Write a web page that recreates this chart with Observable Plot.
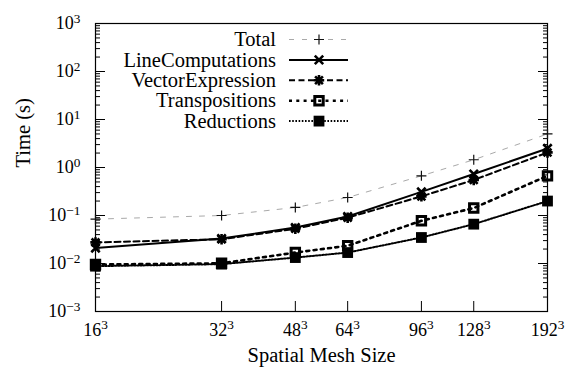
<!DOCTYPE html>
<html><head><meta charset="utf-8">
<script src="https://cdn.jsdelivr.net/npm/d3@7"></script>
<script src="https://cdn.jsdelivr.net/npm/@observablehq/plot@0.6"></script>
<style>
html,body{margin:0;padding:0;background:#fff}
svg{display:block}
svg text, svg tspan{font-family:"Liberation Serif","DejaVu Serif",serif !important;}
</style>
</head><body><div id="chart"></div>
<script>
// ---- data ----
const meshSizes = [16, 32, 48, 64, 96, 128, 192];
const seriesNames = ["Total", "LineComputations", "VectorExpression", "Transpositions", "Reductions"];
const total            = [0.084, 0.100, 0.147, 0.237, 0.67, 1.45, 5.0];
const lineComputations = [0.021, 0.033, 0.056, 0.095, 0.31, 0.73, 2.49];
const vectorExpression = [0.0275, 0.032, 0.053, 0.090, 0.25, 0.55, 2.05];
const transpositions   = [0.0095, 0.0101, 0.0169, 0.0234, 0.0776, 0.143, 0.67];
const reductions       = [0.0088, 0.0097, 0.0133, 0.0169, 0.0348, 0.066, 0.20];
const yMajorTicks = [1e-3, 1e-2, 1e-1, 1e0, 1e1, 1e2, 1e3];
const yTickExponents = ["−3", "−2", "−1", "0", "1", "2", "3"];
const xTickLabels = ["16", "32", "48", "64", "96", "128", "192"];
const xTickExponent = "3";
const xLabel = "Spatial Mesh Size";
const yLabel = "Time (s)";

const seriesValues = [total, lineComputations, vectorExpression, transpositions, reductions];
const rows = seriesNames.flatMap((name, s) => meshSizes.map((m, i) => ({series: name, mesh: m, value: seriesValues[s][i]})));
const yMinorTicks = d3.range(-3, 3).flatMap(e => d3.range(2, 10).map(k => k * Math.pow(10, e)));
const xTicks = meshSizes.map((m, i) => ({mesh: m, label: xTickLabels[i] + "^" + xTickExponent}));

// ---- symbols (half-width = r) ----
const hw = size => Math.sqrt(size / Math.PI);
const plusSym = {draw(c, s){const h = hw(s); c.moveTo(-h,0); c.lineTo(h,0); c.moveTo(0,-h); c.lineTo(0,h);}};
const timesSym = {draw(c, s){const h = hw(s); c.moveTo(-h,-h); c.lineTo(h,h); c.moveTo(-h,h); c.lineTo(h,-h);}};
const asteriskSym = {draw(c, s){const h = hw(s), d = h*0.75; c.moveTo(-h,0); c.lineTo(h,0); c.moveTo(0,-h); c.lineTo(0,h); c.moveTo(-d,-d); c.lineTo(d,d); c.moveTo(-d,d); c.lineTo(d,-d);}};
const squareSym = {draw(c, s){const h = hw(s); c.moveTo(-h,-h); c.lineTo(h,-h); c.lineTo(h,h); c.lineTo(-h,h); c.closePath();}};

const styles = {
  Total:            {stroke: "#a9a9a9", width: 1,   dash: "5,8",     sym: plusSym,     r: 5,   mStroke: "#111", mWidth: 1.2, mFill: "none"},
  LineComputations: {stroke: "#000",    width: 2,   dash: null,      sym: timesSym,    r: 4.2, mStroke: "#000", mWidth: 2.6, mFill: "none"},
  VectorExpression: {stroke: "#000",    width: 2,   dash: "6,3.5",   sym: asteriskSym, r: 5.2, mStroke: "#000", mWidth: 2.6, mFill: "none"},
  Transpositions:   {stroke: "#000",    width: 2.6, dash: "3,4.3",   sym: squareSym,   r: 4.2, mStroke: "#000", mWidth: 3,   mFill: "none"},
  Reductions:       {stroke: "#000",    width: 2,   dash: "1.6,1.6", sym: squareSym,   r: 5.4, mStroke: "none", mWidth: 0,   mFill: "#000"}
};

const W = 571, H = 376, mL = 95, mR = 24, mT = 23, mB = 65;
const plotH = H - mT - mB;
const font = "'Liberation Serif', 'DejaVu Serif', serif";

function legend() {
  const g = d3.create("svg:g").attr("font-size", 20.5);
  seriesNames.forEach((name, i) => {
    const st = styles[name];
    const y = mT + 16.5 + i * 20.4;
    g.append("text").attr("x", mL + 181).attr("y", y).attr("dy", "0.33em").attr("text-anchor", "end").attr("fill", "#000").text(name);
    g.append("line").attr("x1", mL + 194).attr("x2", mL + 253).attr("y1", y).attr("y2", y)
      .attr("stroke", st.stroke).attr("stroke-width", st.width).attr("stroke-dasharray", st.dash);
    g.append("path").attr("transform", `translate(${mL + 224},${y})`)
      .attr("d", d3.symbol(st.sym, Math.PI * st.r * st.r)())
      .attr("fill", st.mFill).attr("stroke", st.mStroke).attr("stroke-width", st.mWidth);
  });
  return g.node();
}

const seriesMarks = seriesNames.flatMap(name => {
  const st = styles[name];
  const data = rows.filter(d => d.series === name);
  return [
    Plot.line(data, {x: "mesh", y: "value", stroke: st.stroke, strokeWidth: st.width, strokeDasharray: st.dash}),
    Plot.dot(data, {x: "mesh", y: "value", symbol: st.sym, r: st.r, fill: st.mFill, stroke: st.mStroke, strokeWidth: st.mWidth})
  ];
});

const chart = Plot.plot({
  width: W, height: H,
  marginLeft: mL, marginRight: mR, marginTop: mT, marginBottom: mB,
  style: {fontFamily: font, fontSize: "18px", background: "#fff", color: "#000"},
  x: {type: "log", domain: [16, 192], axis: null},
  y: {type: "log", domain: [1e-3, 1e3]},
  marks: [
    Plot.axisY(yMinorTicks, {anchor: "left", tickSize: -5, tickFormat: () => "", label: null}),
    Plot.axisY(yMinorTicks, {anchor: "right", tickSize: -5, tickFormat: () => "", label: null}),
    Plot.axisY(yMajorTicks, {anchor: "right", tickSize: -10, tickFormat: () => "", label: null}),
    Plot.axisY(yMajorTicks, {anchor: "left", tickSize: -10, tickPadding: 25, label: null,
      tickFormat: d => "10^" + yTickExponents[yMajorTicks.indexOf(d)]}),
    Plot.tickX(xTicks, {x: "mesh", insetTop: plotH - 10, stroke: "#000"}),
    Plot.text(xTicks, {x: "mesh", text: "label", frameAnchor: "bottom", dy: 24, fontSize: 18, fill: "#000"}),
    Plot.frame({stroke: "#000", strokeWidth: 1.2}),
    ...seriesMarks,
    legend,
    Plot.text([yLabel], {frameAnchor: "left", rotate: -90, dx: -72, fontSize: 20.5, fill: "#000"}),
    Plot.text([xLabel], {frameAnchor: "bottom", dy: 50, fontSize: 20.5, fill: "#000"})
  ]
});

d3.select(chart).selectAll("text").each(function() {
  const t = this.textContent;
  if (!t.includes("^") || this.children.length) return;
  const [b, e] = t.split("^");
  this.textContent = b;
  d3.select(this).append("tspan").attr("dy", "-0.5em").attr("font-size", "0.74em").text(e);
});

document.getElementById("chart").appendChild(chart);
</script>
</body></html>
